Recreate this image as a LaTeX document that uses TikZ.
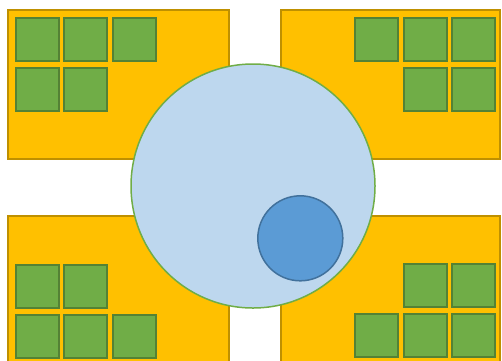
\documentclass[tikz,border=0pt]{standalone}
\usetikzlibrary{positioning}

\definecolor{blockfill}{HTML}{FFC000}
\definecolor{blockline}{HTML}{BF9000}
\definecolor{cellfill}{HTML}{70AD47}
\definecolor{cellline}{HTML}{548235}
\definecolor{zonefill}{HTML}{BDD7EE}
\definecolor{zoneline}{HTML}{70AD47}
\definecolor{spotfill}{HTML}{5B9BD5}
\definecolor{spotline}{HTML}{41719C}

\begin{document}
\begin{tikzpicture}[
    x=1pt, y=-1pt,
    block/.style={draw=blockline, fill=blockfill, line width=2pt, minimum width=221pt, inner sep=0pt},
    cell/.style={draw=cellline, fill=cellfill, line width=2pt, minimum size=43pt, inner sep=0pt},
    zone/.style={circle, draw=zoneline, fill=zonefill, line width=1.5pt, minimum size=244pt, inner sep=0pt},
    spot/.style={circle, draw=spotline, fill=spotfill, line width=1.5pt, minimum size=85pt, inner sep=0pt}
  ]
    \useasboundingbox (0,0) rectangle (502,360);

    % corner blocks
    \node[block, minimum height=149pt] (nw) at (118.5,84.5) {};
    \node[block, minimum width=219pt, minimum height=149pt] (ne) at (390.5,84.5) {};
    \node[block, minimum height=160pt] (sw) at (118.5,296) {};
    \node[block, minimum width=219pt, minimum height=160pt] (se) at (390.5,296) {};

    % cells, top left
    \node[cell] (nw11) at (37.2,39.5) {};
    \node[cell] (nw12) at (85.8,39.5) {};
    \node[cell] (nw13) at (134.5,39.5) {};
    \node[cell] (nw21) at (37.2,89.5) {};
    \node[cell] (nw22) at (85.8,89.5) {};

    % cells, top right
    \node[cell] (ne11) at (376.7,39.5) {};
    \node[cell] (ne12) at (425.2,39.5) {};
    \node[cell] (ne13) at (473.8,39.5) {};
    \node[cell] (ne22) at (425.2,89.5) {};
    \node[cell] (ne23) at (473.8,89.5) {};

    % cells, bottom left
    \node[cell] (sw11) at (37.2,286.7) {};
    \node[cell] (sw12) at (85.8,286.7) {};
    \node[cell] (sw21) at (37.2,336.4) {};
    \node[cell] (sw22) at (85.8,336.4) {};
    \node[cell] (sw23) at (134.5,336.4) {};

    % cells, bottom right
    \node[cell] (se12) at (425.2,285.8) {};
    \node[cell] (se13) at (473.8,285.8) {};
    \node[cell] (se21) at (376.7,335.6) {};
    \node[cell] (se22) at (425.2,335.6) {};
    \node[cell] (se23) at (473.8,335.6) {};

    % coverage circle and spot
    \node[zone] (zone) at (253,186) {};
    \node[spot] (spot) at (300.3,238.3) {};
  \end{tikzpicture}
\end{document}
